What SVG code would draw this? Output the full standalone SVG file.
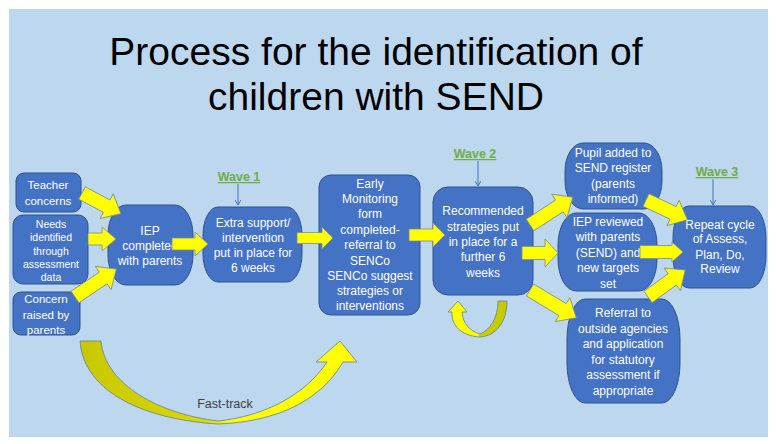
<svg xmlns="http://www.w3.org/2000/svg" width="776" height="444" viewBox="0 0 776 444">
<defs>
<style>
.node{fill:#4472c4;stroke:#2f528f;stroke-width:1}
.nt{font-family:"Liberation Sans",Arial,sans-serif;font-size:12px;fill:#ffffff;text-anchor:middle}
.sm{font-size:11.5px}
.xs{font-size:10.5px}
.title{font-family:"Liberation Sans",Arial,sans-serif;font-size:39px;fill:#000000;text-anchor:middle}
.wave{font-family:"Liberation Sans",Arial,sans-serif;font-size:12.5px;font-weight:bold;fill:#70ad47;text-anchor:middle;text-decoration:underline}
.arr{fill:#ffff00;stroke:#7a8aa0;stroke-width:0.8}
.wl{stroke:#4472c4;stroke-width:1;fill:none;marker-end:url(#ah)}
.ft{font-family:"Liberation Sans",Arial,sans-serif;font-size:12.5px;fill:#404040;text-anchor:middle}
</style>
<marker id="ah" markerWidth="6" markerHeight="6" refX="5" refY="3" orient="auto" markerUnits="userSpaceOnUse">
<path d="M0,0 L5,3 L0,6" fill="none" stroke="#4472c4" stroke-width="1"/>
</marker>
<linearGradient id="gft" x1="0" y1="0" x2="1" y2="0">
<stop offset="0" stop-color="#c8c800"/>
<stop offset="0.45" stop-color="#d8d800"/>
<stop offset="0.55" stop-color="#ffff00"/>
<stop offset="1" stop-color="#ffff00"/>
</linearGradient>
<linearGradient id="gu" x1="0" y1="0" x2="1" y2="0">
<stop offset="0" stop-color="#ffff00"/>
<stop offset="0.5" stop-color="#ffff00"/>
<stop offset="0.55" stop-color="#cccc00"/>
<stop offset="1" stop-color="#c8c800"/>
</linearGradient>
</defs>
<rect x="0" y="0" width="776" height="444" fill="#ffffff"/>
<rect x="9" y="9" width="759" height="428" fill="#bdd7ee"/>

<g id="title">
<text class="title" x="376" y="65">Process for the identification of</text>
<text class="title" x="376" y="110">children with SEND</text>
</g>

<g id="n-teacher">
<rect class="node" x="16" y="173" width="65" height="39" rx="8"/>
<text class="nt sm" x="48" y="189">Teacher</text>
<text class="nt sm" x="48" y="205">concerns</text>
</g>
<g id="n-needs">
<rect class="node" x="13" y="215" width="75" height="69" rx="10"/>
<text class="nt xs" x="51" y="228">Needs</text>
<text class="nt xs" x="51" y="241">identified</text>
<text class="nt xs" x="51" y="255">through</text>
<text class="nt xs" x="51" y="268">assessment</text>
<text class="nt xs" x="51" y="281">data</text>
</g>
<g id="n-concern">
<rect class="node" x="13" y="292" width="67" height="43" rx="8"/>
<text class="nt sm" x="46" y="303">Concern</text>
<text class="nt sm" x="46" y="319">raised by</text>
<text class="nt sm" x="46" y="334">parents</text>
</g>
<g id="n-iep">
<rect class="node" x="108" y="205" width="85" height="80" rx="18" ry="30"/>
<text class="nt" x="150" y="235">IEP</text>
<text class="nt" x="150" y="250">completed</text>
<text class="nt" x="150" y="265">with parents</text>
</g>
<g id="n-extra">
<rect class="node" x="203" y="207" width="99" height="75" rx="15" ry="28"/>
<text class="nt" x="253" y="227">Extra support/</text>
<text class="nt" x="253" y="242">intervention</text>
<text class="nt" x="253" y="257">put in place for</text>
<text class="nt" x="253" y="272">6 weeks</text>
</g>
<g id="n-early">
<rect class="node" x="319" y="175" width="101" height="140" rx="12"/>
<text class="nt" x="370" y="188">Early</text>
<text class="nt" x="370" y="203">Monitoring</text>
<text class="nt" x="370" y="218">form</text>
<text class="nt" x="370" y="234">completed-</text>
<text class="nt" x="370" y="249">referral to</text>
<text class="nt" x="370" y="265">SENCo</text>
<text class="nt" x="370" y="280">SENCo suggest</text>
<text class="nt" x="370" y="295">strategies or</text>
<text class="nt" x="370" y="310">interventions</text>
</g>
<g id="n-rec">
<rect class="node" x="433" y="187" width="100" height="108" rx="15"/>
<text class="nt" x="483" y="215">Recommended</text>
<text class="nt" x="483" y="231">strategies put</text>
<text class="nt" x="483" y="246">in place for a</text>
<text class="nt" x="483" y="261">further 6</text>
<text class="nt" x="483" y="277">weeks</text>
</g>
<g id="n-pupil">
<rect class="node" x="565" y="143" width="97" height="66" rx="18" ry="28"/>
<text class="nt" x="613" y="157">Pupil added to</text>
<text class="nt" x="613" y="172">SEND register</text>
<text class="nt" x="613" y="188">(parents</text>
<text class="nt" x="613" y="203">informed)</text>
</g>
<g id="n-iepreview">
<rect class="node" x="558" y="213" width="99" height="78" rx="18" ry="32"/>
<text class="nt" x="608" y="226">IEP reviewed</text>
<text class="nt" x="608" y="241">with parents</text>
<text class="nt" x="608" y="257">(SEND) and</text>
<text class="nt" x="608" y="272">new targets</text>
<text class="nt" x="608" y="288">set</text>
</g>
<g id="n-referral">
<rect class="node" x="567" y="299" width="113" height="104" rx="18" ry="40"/>
<text class="nt" x="623" y="317">Referral to</text>
<text class="nt" x="623" y="333">outside agencies</text>
<text class="nt" x="623" y="348">and application</text>
<text class="nt" x="623" y="364">for statutory</text>
<text class="nt" x="623" y="379">assessment if</text>
<text class="nt" x="623" y="395">appropriate</text>
</g>
<g id="n-repeat">
<rect class="node" x="673" y="206" width="93" height="82" rx="16" ry="32"/>
<text class="nt" x="720" y="229">Repeat cycle</text>
<text class="nt" x="720" y="243">of Assess,</text>
<text class="nt" x="720" y="259">Plan, Do,</text>
<text class="nt" x="720" y="273">Review</text>
</g>

<g id="wave-labels">
<text class="wave" x="239" y="181">Wave 1</text>
<text class="wave" x="475" y="158">Wave 2</text>
<text class="wave" x="717" y="176">Wave 3</text>
</g>

<g id="connectors">
<line class="wl" x1="238" y1="184" x2="238" y2="205"/>
<line class="wl" x1="478" y1="161" x2="478" y2="186"/>
<line class="wl" x1="713" y1="179" x2="713" y2="205"/>

<path class="arr" transform="translate(82,193) rotate(28)" d="M0,-7 H28 V-14 L44,0 L28,14 V7 H0 Z"/>
<path class="arr" transform="translate(88,239)" d="M0,-6 H14 V-12 L28,0 L14,12 V6 H0 Z"/>
<path class="arr" transform="translate(75,297) rotate(-34)" d="M0,-7 H34 V-14 L50,0 L34,14 V7 H0 Z"/>
<path class="arr" transform="translate(172,244)" d="M0,-6 H23 V-12 L36,0 L23,12 V6 H0 Z"/>
<path class="arr" transform="translate(297,238)" d="M0,-5.5 H25 V-11 L36,0 L25,11 V5.5 H0 Z"/>
<path class="arr" transform="translate(409,235)" d="M0,-6 H24 V-12 L36,0 L24,12 V6 H0 Z"/>
<path class="arr" transform="translate(530,225) rotate(-33)" d="M0,-7 H35 V-14 L51,0 L35,14 V7 H0 Z"/>
<path class="arr" transform="translate(522,253)" d="M0,-6.5 H23 V-14 L36,0 L23,14 V6.5 H0 Z"/>
<path class="arr" transform="translate(530,290) rotate(31)" d="M0,-7 H38 V-14 L54,0 L38,14 V7 H0 Z"/>
<path class="arr" transform="translate(646,200) rotate(25.5)" d="M0,-7 H30 V-14 L46,0 L30,14 V7 H0 Z"/>
<path class="arr" transform="translate(640,252)" d="M0,-6.5 H32 V-10 L43,0 L32,10 V6.5 H0 Z"/>
<path class="arr" transform="translate(648,297) rotate(-36)" d="M0,-7 H30 V-14 L46,0 L30,14 V7 H0 Z"/>

<path fill="url(#gft)" stroke="#5f7fa0" stroke-width="0.8" d="M80,341 H101 C105,385 160,414 218,421 C265,416 305,395 327,362 L316,362 L340,341 L357,362 L343,362 C318,405 270,422 218,424 C150,420 84,395 80,341 Z"/>
<path fill="url(#gu)" stroke="#5f7fa0" stroke-width="0.8" d="M498,301 L507,301 C507,322 496,336 480,337 C462,336 451,326 452,312 L448,312 L458,301 L467,312 L462,312 C463,324 470,331 480,334 C490,330 498,318 498,301 Z"/>
<text class="ft" x="225" y="408">Fast-track</text>
</g>
</svg>
